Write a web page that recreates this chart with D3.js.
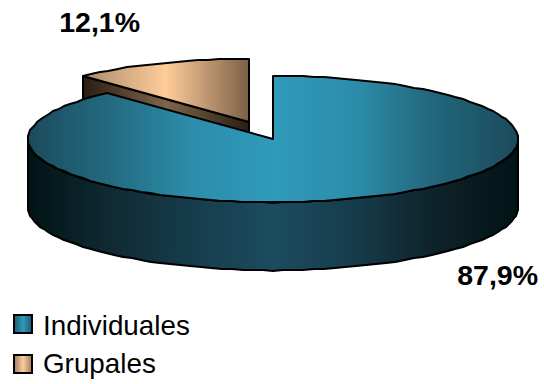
<!DOCTYPE html>
<html>
<head>
<meta charset="utf-8">
<script src="https://cdn.jsdelivr.net/npm/d3@7"></script>
<style>
  html, body { margin: 0; padding: 0; background: #fff; }
  svg { display: block; }
  text { font-family: "Liberation Sans", Arial, sans-serif; fill: #000; }
</style>
</head>
<body>
<svg width="544" height="384"></svg>
<script>
var categories = ["Individuales", "Grupales"];
var shares = [87.9, 12.1];
var shareLabels = ["87,9%", "12,1%"];

var mainTopStops = ["#1b4b5c", "#236a80", "#2c8dab", "#2f9aba", "#2c8dab", "#22657a", "#1b4b5c"];
var mainSideStops = ["#011315", "#102a33", "#163c4b", "#1b4c5f", "#163c4b", "#0e2229", "#011315"];
var groupTopStops = ["#a98a6c", "#ffcc99", "#7a6047"];
var groupSideStops = ["#2a1e12", "#7f654b", "#2a1e12"];
var swatchStops = [["#1b5a70", "#2f9aba", "#1b5a70"], ["#9a7d60", "#ffcc99", "#9a7d60"]];

var svg = d3.select("svg");
var defs = svg.append("defs");

// tilted pie: rx/ry squash the circle, depth is the wall height
var rx = 245, ry = 63.5, depth = 68;
var centers = [{x: 273, y: 139}, {x: 249, y: 122}];

var pie = d3.pie().sort(null).value(function (d) { return d; });
var slices = pie(shares);

function rim(c, a, dy) {
    var s = Math.sin(a);
    // slightly squarer than a true ellipse
    var sx = (s < 0 ? -1 : 1) * Math.pow(Math.abs(s), 1.04);
    return [Math.round(c.x + rx * sx), Math.round(c.y - ry * Math.cos(a) + (dy || 0))];
}

// outer edge is a coarse polyline, so it looks faceted
function arcPoints(c, a0, a1, dy) {
    var n = Math.max(2, Math.ceil(Math.abs(a1 - a0) / 0.045));
    return d3.range(n + 1).map(function (i) {
        return rim(c, a0 + (a1 - a0) * i / n, dy);
    });
}

var line = d3.line();

function hGradient(id, x0, x1, stops) {
    var g = defs.append("linearGradient").attr("id", id)
        .attr("gradientUnits", "userSpaceOnUse")
        .attr("x1", x0).attr("x2", x1).attr("y1", 0).attr("y2", 0);
    stops.forEach(function (s, i) {
        g.append("stop").attr("offset", i / (stops.length - 1)).attr("stop-color", s);
    });
    return "url(#" + id + ")";
}

var mainTop = hGradient("mainTop", centers[0].x - rx, centers[0].x + rx, mainTopStops);
var mainSide = hGradient("mainSide", centers[0].x - rx, centers[0].x + rx, mainSideStops);
var groupTop = hGradient("groupTop", 83, 249, groupTopStops);
var groupSide = hGradient("groupSide", 83, 249, groupSideStops);

function draw(points, fill) {
    svg.append("path")
        .attr("d", line(points) + "Z")
        .attr("fill", fill)
        .attr("stroke", "#000")
        .attr("stroke-width", 2)
        .attr("stroke-linejoin", "round");
}

// exploded small slice goes first, the big one covers its lower part
var g = slices[1], gc = centers[1];
var gStart = rim(gc, g.startAngle);
draw([gStart, [gStart[0], gStart[1] + depth], [gc.x, gc.y + depth], [gc.x, gc.y]], groupSide);
draw([[gc.x, gc.y]].concat(arcPoints(gc, g.startAngle, g.endAngle)), groupTop);

// front wall of the big slice
var m = slices[0], mc = centers[0];
draw(arcPoints(mc, Math.PI / 2, 3 * Math.PI / 2, 0)
    .concat(arcPoints(mc, 3 * Math.PI / 2, Math.PI / 2, depth)), mainSide);
draw([[mc.x, mc.y]].concat(arcPoints(mc, m.startAngle, m.endAngle)), mainTop);

// value labels
var labelPos = [{x: 538, y: 285}, {x: 140, y: 32}];
shareLabels.forEach(function (t, i) {
    svg.append("text")
        .attr("x", labelPos[i].x).attr("y", labelPos[i].y)
        .attr("text-anchor", "end")
        .attr("font-size", 28.5)
        .attr("font-weight", "bold")
        .text(t);
});

// legend
var legendY = d3.scalePoint().domain(categories).range([335, 373]);
var swatchY = d3.scalePoint().domain(categories).range([315, 355]);
categories.forEach(function (name, i) {
    var fill = hGradient("swatch" + i, 14, 32, swatchStops[i]);
    svg.append("rect")
        .attr("x", 14).attr("y", swatchY(name))
        .attr("width", 18).attr("height", 18)
        .attr("fill", fill)
        .attr("stroke", "#000")
        .attr("stroke-width", 2);
    svg.append("text")
        .attr("x", 43).attr("y", legendY(name))
        .attr("font-size", 27.8)
        .text(name);
});
</script>
</body>
</html>
